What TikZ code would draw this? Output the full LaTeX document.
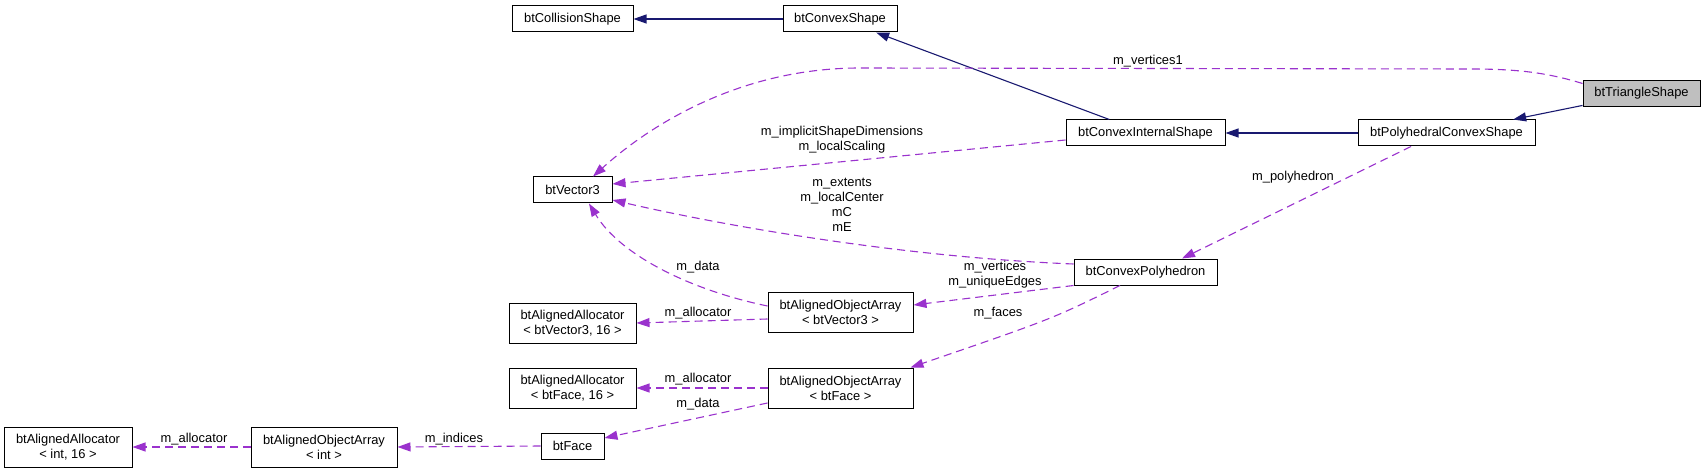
\documentclass[tikz,border=0pt]{standalone}
\usepackage{fontspec}
\setmainfont{Liberation Sans}
\usetikzlibrary{arrows.meta}
\definecolor{inhcol}{HTML}{191970}
\definecolor{usecol}{HTML}{9A32CD}
\definecolor{hilite}{HTML}{BFBFBF}
\begin{document}
\begin{tikzpicture}[x=1pt,y=-1pt,
  cls/.style={draw=black, line width=1pt, rectangle, inner sep=0pt, align=center,
    font=\fontsize{12.9}{15}\selectfont, text=black, anchor=center},
  lbl/.style={inner sep=0pt, align=center, font=\fontsize{12.9}{15}\selectfont, text=black, anchor=center},
  inhedge/.style={draw=inhcol, line width=1.1pt, -{Triangle[length=13pt,width=9pt]}, fill=none},
  useedge/.style={draw=usecol, line width=1.1pt, dash pattern=on 8pt off 5pt, -{Triangle[length=13pt,width=9pt,fill=usecol]}}
]
\useasboundingbox (0,0) rectangle (1705,473);

% classes
\node[cls, minimum width=121pt, minimum height=26pt] (coll) at (572.5,19) {btCollisionShape};
\node[cls, minimum width=114pt, minimum height=26pt] (cvx) at (840,19) {btConvexShape};
\node[cls, minimum width=117pt, minimum height=26pt, fill=hilite] (tri) at (1641.5,93.5) {btTriangleShape};
\node[cls, minimum width=159pt, minimum height=26pt] (cis) at (1145.5,133) {btConvexInternalShape};
\node[cls, minimum width=177pt, minimum height=26pt] (pcs) at (1446.5,133) {btPolyhedralConvexShape};
\node[cls, minimum width=79pt, minimum height=26pt] (v3) at (572.5,190) {btVector3};
\node[cls, minimum width=143pt, minimum height=26pt] (poly) at (1145.5,272) {btConvexPolyhedron};
\node[cls, minimum width=145pt, minimum height=40pt] (aoav) at (840.5,312) {btAlignedObjectArray\\\textless{} btVector3 \textgreater};
\node[cls, minimum width=127pt, minimum height=40pt] (aav) at (572.5,323) {btAlignedAllocator\\\textless{} btVector3, 16 \textgreater};
\node[cls, minimum width=127pt, minimum height=40pt] (aaf) at (572.5,388) {btAlignedAllocator\\\textless{} btFace, 16 \textgreater};
\node[cls, minimum width=145pt, minimum height=40pt] (aoaf) at (840.5,388) {btAlignedObjectArray\\\textless{} btFace \textgreater};
\node[cls, minimum width=128pt, minimum height=40pt] (aai) at (68,447) {btAlignedAllocator\\\textless{} int, 16 \textgreater};
\node[cls, minimum width=146pt, minimum height=40pt] (aoai) at (324,447) {btAlignedObjectArray\\\textless{} int \textgreater};
\node[cls, minimum width=63pt, minimum height=26pt] (face) at (572.5,446) {btFace};

% inheritance
\draw[inhedge] (cvx) -- (coll);
\draw[inhedge] (cis) -- (cvx);
\draw[inhedge] (pcs) -- (cis);
\draw[inhedge] (tri) -- (pcs);

% usage
\draw[useedge] ([yshift=10pt]tri.west) .. controls (1545,72) and (1515,69) .. (1470,69) -- (860,68) .. controls (740,68) and (650,125) .. ([xshift=20.5pt]v3.north);
\draw[useedge] ([yshift=-7pt]cis.west) -- ([yshift=6pt]v3.east);
\draw[useedge] ([yshift=8pt]poly.west) .. controls (900,257) and (720,225) .. ([yshift=-10pt]v3.east);
\draw[useedge] ([yshift=6pt]aoav.west) .. controls (690,290) and (620,255) .. ([xshift=16.5pt]v3.south);
\draw[useedge] ([yshift=-7pt]aoav.west) -- (aav.east);
\draw[useedge] (poly.south west) -- ([yshift=7pt]aoav.east);
\draw[useedge] ([xshift=-25.5pt]poly.south) .. controls (1052,319) .. ([xshift=-3pt]aoaf.north east);
\draw[useedge] ([xshift=-35.5pt]pcs.south) -- ([xshift=36.5pt]poly.north);
\draw[useedge] (aoaf.west) -- (aaf.east);
\draw[useedge] ([yshift=-15pt]aoaf.west) -- ([yshift=8pt]face.east);
\draw[useedge] (face.west) -- (aoai.east);
\draw[useedge] (aoai.west) -- (aai.east);

% labels
\node[lbl] (l1) at (1148,61) {m\_vertices1};
\node[lbl] (l2) at (842,140) {m\_implicitShapeDimensions\\m\_localScaling};
\node[lbl] (l3) at (842,205) {m\_extents\\m\_localCenter\\mC\\mE};
\node[lbl] (l4) at (698,267) {m\_data};
\node[lbl] (l5) at (698,313) {m\_allocator};
\node[lbl] (l6) at (995,275) {m\_vertices\\m\_uniqueEdges};
\node[lbl] (l7) at (998,313) {m\_faces};
\node[lbl] (l8) at (1293,177) {m\_polyhedron};
\node[lbl] (l9) at (698,379) {m\_allocator};
\node[lbl] (l10) at (698,404) {m\_data};
\node[lbl] (l11) at (454,439) {m\_indices};
\node[lbl] (l12) at (194,439) {m\_allocator};
\end{tikzpicture}
\end{document}
